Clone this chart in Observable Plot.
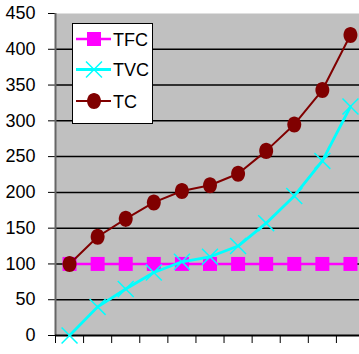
<!DOCTYPE html>
<html>
<head>
<meta charset="utf-8">
<script src="https://cdn.jsdelivr.net/npm/d3@7"></script>
<script src="https://cdn.jsdelivr.net/npm/@observablehq/plot@0.6"></script>
<style>
  html, body { margin: 0; padding: 0; background: #fff; overflow: hidden; }
  #chart { position: relative; width: 359px; height: 354px; overflow: hidden; }
  #legend { position: absolute; left: 72px; top: 23px; }
</style>
</head>
<body>
<div id="chart"></div>
<script>
// Output quantity (one category per unit)
const quantity = [0, 1, 2, 3, 4, 5, 6, 7, 8, 9, 10];
// Total fixed cost
const tfc = [100, 100, 100, 100, 100, 100, 100, 100, 100, 100, 100];
// Total variable cost
const tvc = [0, 40, 65, 88, 103, 110, 125, 157, 195, 244, 320];
// Total cost
const tc = [100, 138, 163, 186, 202, 210, 226, 258, 295, 343, 420];
// Value axis ticks
const yTicks = [0, 50, 100, 150, 200, 250, 300, 350, 400, 450];
// Series names and colours
const seriesNames = ["TFC", "TVC", "TC"];
const seriesColors = ["#FF00FF", "#00FFFF", "#800000"];

const FONT = "'Liberation Sans', Arial, sans-serif";

// Slightly tall ellipse marker for the TC series
const ellipse = {
  draw(context, size) {
    const r = Math.sqrt(size / Math.PI);
    const rx = r * 0.93, ry = r * 1.07, k = 0.5523;
    context.moveTo(rx, 0);
    context.bezierCurveTo(rx, ry * k, rx * k, ry, 0, ry);
    context.bezierCurveTo(-rx * k, ry, -rx, ry * k, -rx, 0);
    context.bezierCurveTo(-rx, -ry * k, -rx * k, -ry, 0, -ry);
    context.bezierCurveTo(rx * k, -ry, rx, -ry * k, rx, 0);
    context.closePath();
  }
};

const series = [
  {name: seriesNames[0], color: seriesColors[0], values: tfc, symbol: "square", r: 7.9, width: 2.5, marker: "fill"},
  {name: seriesNames[1], color: seriesColors[1], values: tvc, symbol: "times", r: 7.3, width: 2.8, marker: "stroke"},
  {name: seriesNames[2], color: seriesColors[2], values: tc, symbol: ellipse, r: 7.5, width: 2, marker: "fill"}
];

// Category boundaries, where the x tick marks sit
const bounds = quantity.map(q => q - 0.5).concat([quantity[quantity.length - 1] + 0.5]);
const grid = yTicks.filter(v => v > 0 && v < 450);

const marks = [
  Plot.frame({fill: "#C0C0C0", stroke: null}),
  Plot.ruleY(grid, {stroke: "#000", strokeWidth: 1.5}),
  Plot.ruleX([bounds[0]], {stroke: "#666", strokeWidth: 2}),
  Plot.ruleY([0], {stroke: "#000", strokeWidth: 2})
];

for (const s of series) {
  const rows = quantity.map((q, i) => ({q, v: s.values[i]}));
  marks.push(Plot.line(rows, {x: "q", y: "v", stroke: s.color, strokeWidth: s.width}));
  if (s.marker === "fill") {
    marks.push(Plot.dot(rows, {x: "q", y: "v", symbol: s.symbol, r: s.r, fill: s.color, stroke: null}));
  } else {
    marks.push(Plot.dot(rows, {x: "q", y: "v", symbol: s.symbol, r: s.r, fill: "none", stroke: s.color, strokeWidth: 1.5}));
  }
}

const chart = Plot.plot({
  width: 359,
  height: 354,
  marginLeft: 55,
  marginRight: 0,
  marginTop: 13,
  marginBottom: 19,
  style: {fontSize: "18px", fontFamily: FONT, background: "transparent", color: "#000"},
  x: {
    type: "linear",
    domain: [bounds[0], bounds[bounds.length - 1]],
    range: [55, 364],
    ticks: bounds,
    tickFormat: () => "",
    tickSize: 8,
    label: null
  },
  y: {
    domain: [0, 450],
    ticks: yTicks,
    tickSize: 7,
    tickPadding: 13,
    tickFormat: d => String(d),
    label: null
  },
  marks
});

const host = document.getElementById("chart");
host.appendChild(chart);

// Legend box drawn over the plot area
const lw = 80, lh = 100, rowY = [16, 46.5, 78];
const legend = d3.select(host).append("svg")
  .attr("id", "legend")
  .attr("width", lw + 1)
  .attr("height", lh + 1);
legend.append("rect")
  .attr("x", 0.5).attr("y", 0.5)
  .attr("width", lw).attr("height", lh)
  .attr("fill", "#fff").attr("stroke", "#000").attr("stroke-width", 1);

series.forEach((s, i) => {
  const g = legend.append("g").attr("transform", `translate(0,${rowY[i]})`);
  g.append("line").attr("x1", 4).attr("x2", 39).attr("y1", 0).attr("y2", 0)
    .attr("stroke", s.color).attr("stroke-width", s.width);
  const symType = s.symbol === "square" ? d3.symbolSquare : s.symbol === "times" ? d3.symbolTimes : s.symbol;
  const path = d3.symbol(symType, s.r * s.r * Math.PI)();
  const p = g.append("path").attr("d", path).attr("transform", "translate(22,0)");
  if (s.marker === "fill") p.attr("fill", s.color);
  else p.attr("fill", "none").attr("stroke", s.color).attr("stroke-width", 1.5);
  g.append("text").attr("x", 41).attr("y", 6.5)
    .attr("font-family", FONT).attr("font-size", 18).attr("fill", "#000")
    .text(s.name);
});
</script>
</body>
</html>
